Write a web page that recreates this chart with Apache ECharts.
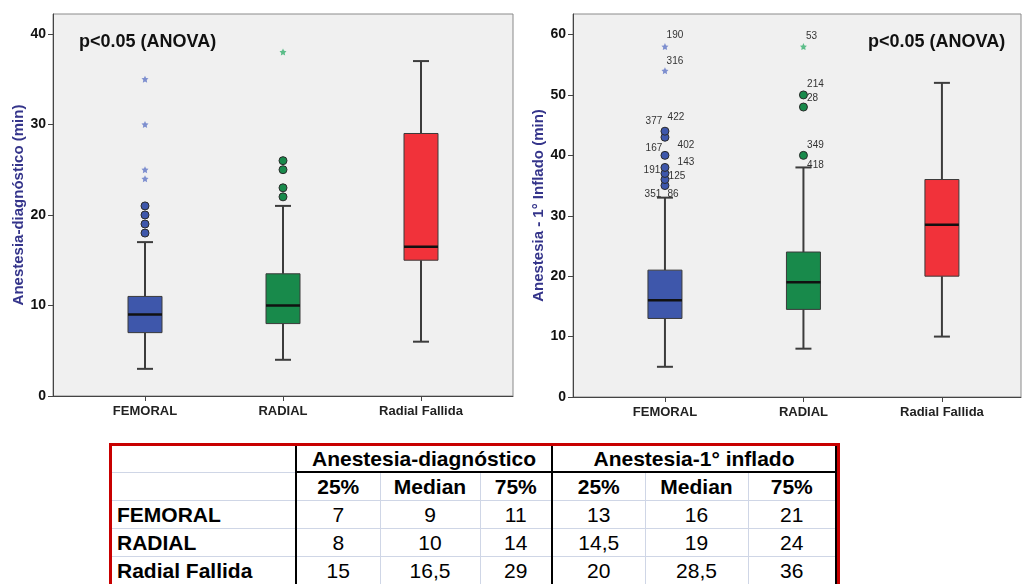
<!DOCTYPE html>
<html>
<head>
<meta charset="utf-8">
<title>Anestesia - tiempos por acceso</title>
<script src="https://cdn.jsdelivr.net/npm/echarts@6/dist/echarts.min.js"></script>
<style>
body { margin: 0; background: #fff; }
#chart { position: absolute; left: 0; top: 0; width: 1022px; height: 440px; }
#tbl { position: absolute; left: 109px; top: 443px; border: 3px solid #c80000; border-bottom: none; }
#tbl table { border-collapse: collapse; table-layout: fixed; font-family: "Liberation Sans", Arial, sans-serif; font-size: 21px; color: #000; }
#tbl td { height: 27px; line-height: 27px; padding: 0; text-align: center; white-space: nowrap; border-bottom: 1px solid #cfd6e6; }
#tbl td.lab { text-align: left; padding-left: 5px; font-weight: bold; }
#tbl td.hd { font-weight: bold; }
#tbl tr.r1 td { height: 25px; line-height: 25px; }
#tbl td.grp { border-bottom: 2px solid #000; }
#tbl td.bl { border-left: 2px solid #000; }
#tbl td.br { border-right: 2px solid #000; }
#tbl td.sub { border-left: 1px solid #cfd6e6; }
</style>
</head>
<body>
<div id="chart"></div>
<div id="tbl"></div>
<script>
const categories = ['FEMORAL', 'RADIAL', 'Radial Fallida'];

// Anestesia-diagnóstico: [min, Q1, mediana, Q3, max]
const diagBoxes = [[3, 7, 9, 11, 17], [4, 8, 10, 13.5, 21], [6, 15, 16.5, 29, 37]];
const diagOutliers = [[0, 18], [0, 19], [0, 20], [0, 21], [1, 22], [1, 23], [1, 25], [1, 26]];
const diagExtremes = [[0, 24], [0, 25], [0, 30], [0, 35], [1, 38]];

// Anestesia - 1º inflado
const inflBoxes = [[5, 13, 16, 21, 33], [8, 14.5, 19, 24, 38], [10, 20, 28.5, 36, 52]];
const inflOutliers = [[0, 35], [0, 36], [0, 37], [0, 38], [0, 40], [0, 43], [0, 44], [1, 40], [1, 48], [1, 50]];
const inflExtremes = [[0, 54], [0, 58], [1, 58]];
const inflCases = [[0, 58, '190'], [0, 54, '316'], [0, 44, '422'], [0, 43, '377'], [0, 40, '402'], [0, 40, '167'],
  [0, 38, '143'], [0, 37, '191'], [0, 36, '125'], [0, 35, '351'], [0, 35, '86'],
  [1, 58, '53'], [1, 50, '214'], [1, 48, '28'], [1, 40, '349'], [1, 38, '418']];
const caseOffsets = [[10, -11], [10, -10], [11, -14], [-11, -16], [21, -10], [-11, -7],
  [21, -5], [-13, -3], [12, -3], [-12, 9], [8, 9],
  [8, -10], [12, -11], [9, -9], [12, -10], [12, -2]];

const diagTicks = [0, 10, 20, 30, 40];
const inflTicks = [0, 10, 20, 30, 40, 50, 60];

// tabla
const tableGroups = ['Anestesia-diagnóstico', 'Anestesia-1° inflado'];
const tableCols = ['25%', 'Median', '75%'];
const tableDiag = [['7', '9', '11'], ['8', '10', '14'], ['15', '16,5', '29']];
const tableInfl = [['13', '16', '21'], ['14,5', '19', '24'], ['20', '28,5', '36']];

const boxColors = ['#3e57ab', '#188a4b', '#f1323a'];
const starColors = ['#7e8fcf', '#5cbd89', '#f1323a'];
const font = '"Liberation Sans", Arial, sans-serif';
const starPath = 'path://M0,-10L2.9,-4L9.5,-3.1L4.7,1.5L5.9,8.1L0,5L-5.9,8.1L-4.7,1.5L-9.5,-3.1L-2.9,-4Z';

function renderBox(params, api) {
  const x = api.value(0);
  const lo = api.coord([x, api.value(1)]);
  const q1 = api.coord([x, api.value(2)]);
  const md = api.coord([x, api.value(3)]);
  const q3 = api.coord([x, api.value(4)]);
  const hi = api.coord([x, api.value(5)]);
  const half = 17, cap = 8;
  const cx = lo[0];
  const ws = { stroke: '#3c3c3c', lineWidth: 2 };
  return {
    type: 'group',
    children: [
      { type: 'line', shape: { x1: cx, y1: lo[1], x2: cx, y2: q1[1] }, style: ws },
      { type: 'line', shape: { x1: cx, y1: hi[1], x2: cx, y2: q3[1] }, style: ws },
      { type: 'line', shape: { x1: cx - cap, y1: lo[1], x2: cx + cap, y2: lo[1] }, style: ws },
      { type: 'line', shape: { x1: cx - cap, y1: hi[1], x2: cx + cap, y2: hi[1] }, style: ws },
      { type: 'rect', shape: { x: cx - half, y: q3[1], width: half * 2, height: q1[1] - q3[1] },
        style: { fill: boxColors[params.dataIndex], stroke: '#3a3a3a', lineWidth: 1 } },
      { type: 'line', shape: { x1: cx - half, y1: md[1], x2: cx + half, y2: md[1] },
        style: { stroke: '#111', lineWidth: 2.5 } }
    ]
  };
}

function renderCase(params, api) {
  const p = api.coord([api.value(0), api.value(1)]);
  const off = caseOffsets[params.dataIndex];
  return {
    type: 'text',
    x: p[0] + off[0], y: p[1] + off[1],
    style: { text: inflCases[params.dataIndex][2], fill: '#333', font: '10px ' + font,
      align: 'center', verticalAlign: 'middle' }
  };
}

function xAxis(grid, min, max) {
  return {
    type: 'value', gridIndex: grid, min: min, max: max,
    splitLine: { show: false },
    axisLine: { show: true, onZero: false, lineStyle: { color: '#444' } },
    axisTick: { show: true, length: 5, customValues: [0, 1, 2], lineStyle: { color: '#444' } },
    axisLabel: { customValues: [0, 1, 2], formatter: v => categories[v] || '', margin: 9,
      color: '#222', fontFamily: font, fontWeight: 'bold', fontSize: 13 }
  };
}

function yAxis(grid, max, ticks, name) {
  return {
    type: 'value', gridIndex: grid, min: 0, max: max,
    name: name, nameLocation: 'middle', nameGap: 25,
    nameTextStyle: { color: '#34348a', fontFamily: font, fontWeight: 'bold', fontSize: 15 },
    splitLine: { show: false },
    axisLine: { show: true, onZero: false, lineStyle: { color: '#444' } },
    axisTick: { show: true, length: 5, customValues: ticks, lineStyle: { color: '#444' } },
    axisLabel: { customValues: ticks, margin: 7, color: '#111', fontFamily: font, fontWeight: 'bold', fontSize: 14 }
  };
}

function boxSeries(grid, boxes) {
  return {
    type: 'custom', xAxisIndex: grid, yAxisIndex: grid, z: 2,
    renderItem: renderBox,
    encode: { x: 0, y: [1, 2, 3, 4, 5] },
    data: boxes.map((b, i) => [i].concat(b))
  };
}

function circleSeries(grid, pts) {
  return {
    type: 'scatter', xAxisIndex: grid, yAxisIndex: grid, z: 3,
    symbol: 'circle', symbolSize: 8,
    itemStyle: { color: p => boxColors[p.value[0]], borderColor: '#2a2a2a', borderWidth: 1, opacity: 1 },
    data: pts
  };
}

function starSeries(grid, pts) {
  return {
    type: 'scatter', xAxisIndex: grid, yAxisIndex: grid, z: 3,
    symbol: starPath, symbolSize: 7,
    itemStyle: { color: p => starColors[p.value[0]], opacity: 1 },
    data: pts
  };
}

const chart = echarts.init(document.getElementById('chart'));
chart.setOption({
  animation: false,
  grid: [
    { left: 53, top: 14, width: 460, height: 382, show: true, backgroundColor: '#f0f0f0', borderColor: '#8a8a8a', borderWidth: 1 },
    { left: 573, top: 14, width: 448, height: 383, show: true, backgroundColor: '#f0f0f0', borderColor: '#8a8a8a', borderWidth: 1 }
  ],
  xAxis: [xAxis(0, -2 / 3, 8 / 3), xAxis(1, -0.664, 2.571)],
  yAxis: [
    yAxis(0, 42.2, diagTicks, 'Anestesia-diagnóstico (min)'),
    yAxis(1, 63.4, inflTicks, 'Anestesia - 1° Inflado (min)')
  ],
  graphic: [
    { type: 'text', left: 79, top: 33, style: { text: 'p<0.05 (ANOVA)', font: 'bold 18px ' + font, fill: '#111' } },
    { type: 'text', left: 868, top: 33, style: { text: 'p<0.05 (ANOVA)', font: 'bold 18px ' + font, fill: '#111' } }
  ],
  series: [
    boxSeries(0, diagBoxes),
    circleSeries(0, diagOutliers),
    starSeries(0, diagExtremes),
    boxSeries(1, inflBoxes),
    circleSeries(1, inflOutliers),
    starSeries(1, inflExtremes),
    {
      type: 'custom', xAxisIndex: 1, yAxisIndex: 1, z: 4, silent: true,
      renderItem: renderCase,
      encode: { x: 0, y: 1 },
      data: inflCases.map(c => [c[0], c[1]])
    }
  ]
});

// tabla de cuartiles
(function buildTable() {
  const widths = [184, 84, 100, 72, 93, 103, 88];
  let h = '<table><colgroup>' + widths.map(w => '<col style="width:' + w + 'px">').join('') + '</colgroup>';
  h += '<tr class="r1"><td></td>';
  tableGroups.forEach((g, i) => {
    h += '<td colspan="3" class="hd grp bl' + (i === tableGroups.length - 1 ? ' br' : '') + '">' + g + '</td>';
  });
  h += '</tr><tr><td></td>';
  tableGroups.forEach((g, gi) => {
    tableCols.forEach((c, ci) => {
      let cls = 'hd' + (ci === 0 ? ' bl' : ' sub') + (gi === 1 && ci === 2 ? ' br' : '');
      h += '<td class="' + cls + '">' + c + '</td>';
    });
  });
  h += '</tr>';
  categories.forEach((cat, r) => {
    h += '<tr><td class="lab">' + cat + '</td>';
    [tableDiag[r], tableInfl[r]].forEach((vals, gi) => {
      vals.forEach((v, ci) => {
        let cls = (ci === 0 ? 'bl' : 'sub') + (gi === 1 && ci === 2 ? ' br' : '');
        h += '<td class="' + cls + '">' + v + '</td>';
      });
    });
    h += '</tr>';
  });
  h += '</table>';
  document.getElementById('tbl').innerHTML = h;
})();
</script>
</body>
</html>
